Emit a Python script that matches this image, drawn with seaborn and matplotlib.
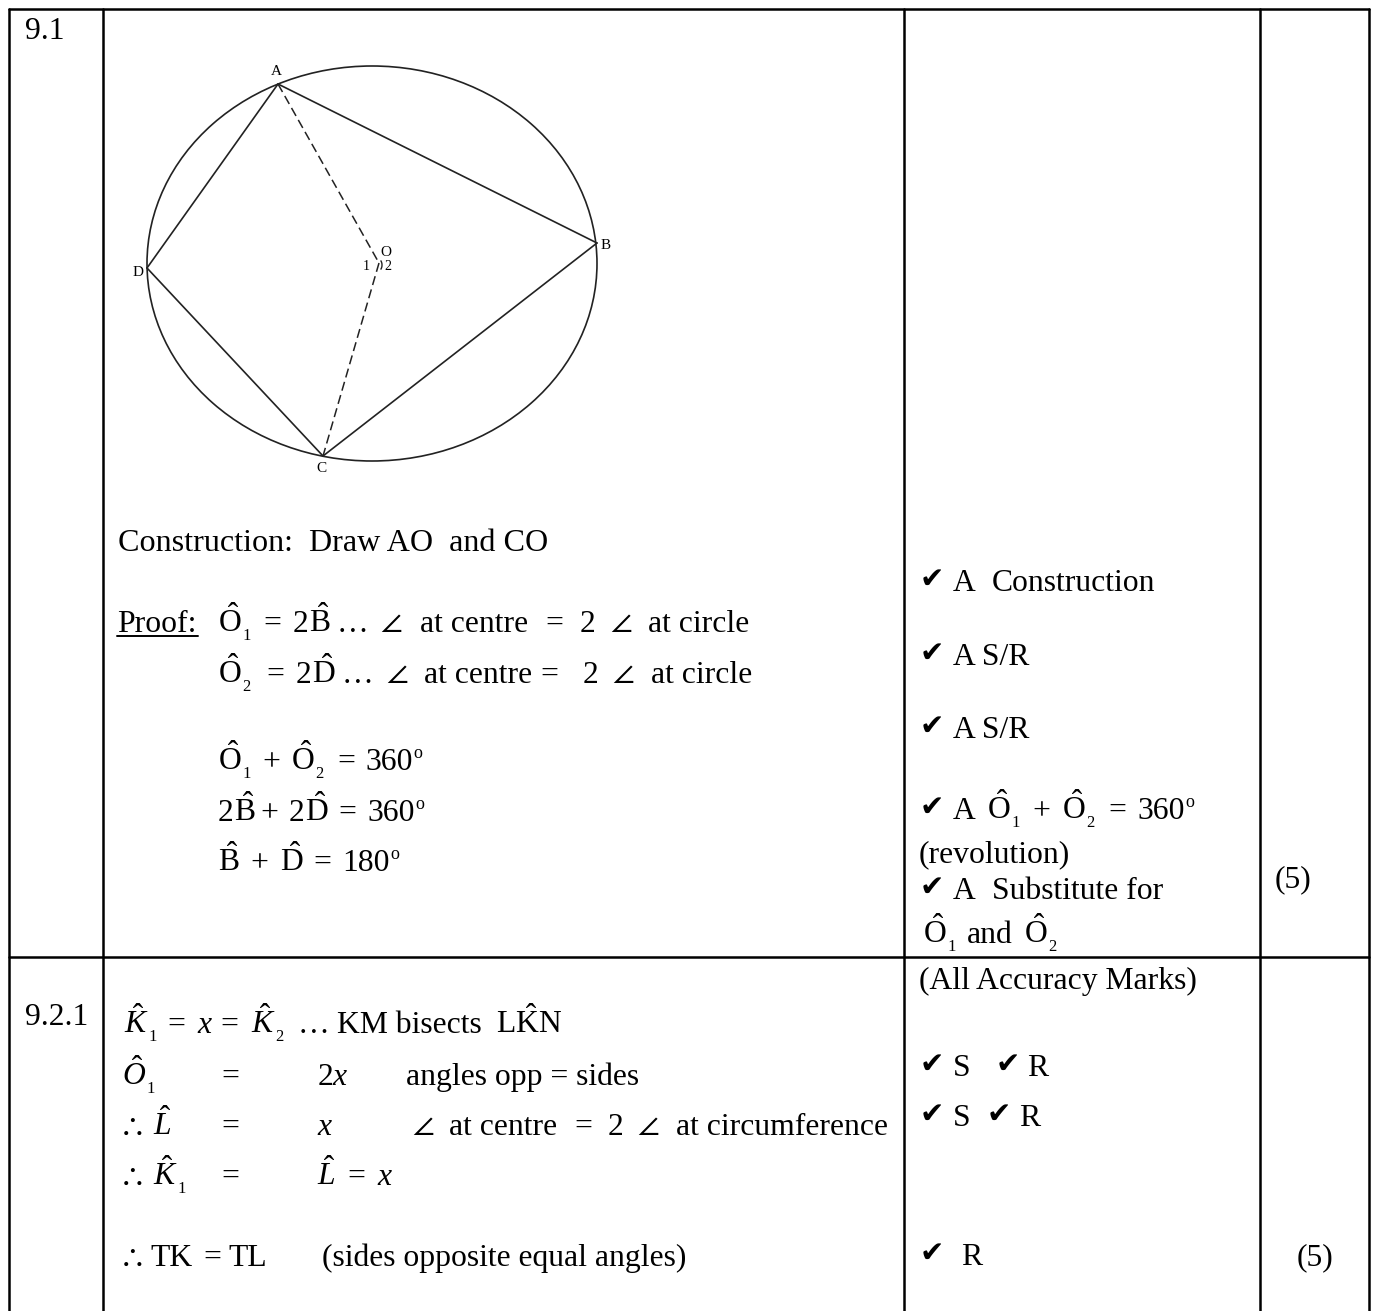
import matplotlib
matplotlib.use('Agg')
import matplotlib.pyplot as plt
from matplotlib.patches import Ellipse, Arc
import pandas as pd
import seaborn as sns

# diagram points (pixels)
point_names = ['A', 'B', 'C', 'D', 'O']
point_x = [278, 597, 323, 147, 379]
point_y = [84, 243, 456, 268, 263]
solid_chords = [('A', 'B'), ('B', 'C'), ('C', 'D'), ('D', 'A')]
dashed_chords = [('A', 'O'), ('O', 'C')]

# table grid
col_lines = [9, 103, 904, 1260, 1369]
row_lines = [9, 957]
table_bottom = 1311

sns.set_theme(style='white')
plt.rcParams['font.family'] = ['Liberation Serif', 'DejaVu Sans']
plt.rcParams['mathtext.fontset'] = 'custom'
plt.rcParams['mathtext.rm'] = 'Liberation Serif'
plt.rcParams['mathtext.it'] = 'Liberation Serif:italic'
plt.rcParams['mathtext.bf'] = 'Liberation Serif:bold'
plt.rcParams['mathtext.fallback'] = 'stix'

FS = 22.8
ANG = r'$\angle$'
THEREFORE = r'$\therefore$'

fig = plt.figure(figsize=(13.76, 13.11), dpi=100)
ax = fig.add_axes([0, 0, 1, 1])
ax.set_xlim(0, 1376)
ax.set_ylim(1311, 0)
ax.axis('off')

pts = pd.DataFrame({'x': point_x, 'y': point_y}, index=point_names)


def seg(x, y, color='black', lw=1.8, ls='-'):
    sns.lineplot(x=x, y=y, sort=False, estimator=None, color=color, lw=lw, ls=ls, ax=ax, legend=False)


def put(x, y, s, size=FS, ha='left'):
    ax.text(x, y, s, fontsize=size, va='baseline', ha=ha, color='black')


def row(y, parts):
    # one line of text made of pieces at given x
    for x, s in parts:
        put(x, y, s)


def hat(x, y, letter, sub=None, italic=False, sub_dx=24):
    if italic:
        put(x, y, r'$\hat{%s}$' % letter)
    else:
        put(x, y, r'$\hat{\mathrm{%s}}$' % letter)
    if sub:
        put(x + sub_dx, y + 8, sub, size=12)


def degrees(x, y, number):
    put(x, y, number)
    put(x + 48, y - 12, 'o', size=13)


def tick(x, y):
    ax.text(x - 1, y - 3, '\u2714', fontsize=21, family=['DejaVu Sans'], va='baseline', color='black')


# table lines
for cx in col_lines:
    seg([cx, cx], [row_lines[0], table_bottom])
for cy in row_lines:
    seg([col_lines[0], col_lines[-1]], [cy, cy])

# circle and chords
ax.add_patch(Ellipse((372, 263.5), 450, 395, fill=False, ec='#222222', lw=1.2))
for a, b in solid_chords:
    seg([pts.x[a], pts.x[b]], [pts.y[a], pts.y[b]], color='#222222', lw=1.2)
for a, b in dashed_chords:
    seg([pts.x[a], pts.x[b]], [pts.y[a], pts.y[b]], color='#222222', lw=1.1, ls=(0, (6, 3)))
ax.add_patch(Arc((378, 265), 8, 12, theta1=-60, theta2=60, ec='#222222', lw=1.0))
for lab, lx, ly in [('A', 276, 75), ('B', 606, 249), ('C', 321, 472), ('D', 138, 276), ('O', 386, 256)]:
    put(lx, ly, lab, size=11, ha='center')
put(366, 270, '1', size=10, ha='center')
put(388, 270, '2', size=10, ha='center')

# first row, left
put(25, 39, '9.1')
put(118, 551, 'Construction:  Draw AO  and CO', size=23.1)
put(117, 632, 'Proof:')
seg([117, 198], [636, 636], lw=1.4)

hat(218, 632, 'O', '1')
row(632, [(263, '='), (293, '2')])
hat(309, 632, 'B')
row(632, [(337, '\u2026'), (380, ANG), (420, 'at centre'), (545, '='), (580, '2'), (610, ANG), (648, 'at circle')])

hat(218, 683, 'O', '2')
row(683, [(266, '='), (296, '2')])
hat(312, 683, 'D')
row(683, [(342, '\u2026'), (386, ANG), (424, 'at centre'), (540, '='), (583, '2'), (612, ANG), (651, 'at circle')])

hat(218, 770, 'O', '1')
put(262, 770, '+')
hat(291, 770, 'O', '2')
put(337, 770, '=')
degrees(365, 770, '360')

put(218, 821, '2')
hat(234, 821, 'B')
row(821, [(260, '+'), (289, '2')])
hat(305, 821, 'D')
put(338, 821, '=')
degrees(367, 821, '360')

hat(218, 871, 'B')
put(250, 871, '+')
hat(280, 871, 'D')
put(313, 871, '=')
degrees(342, 871, '180')

# first row, marks
tick(921, 591)
row(591, [(953, 'A'), (992, 'Construction')])
tick(921, 665)
put(953, 665, 'A S/R')
tick(921, 738)
put(953, 738, 'A S/R')
tick(921, 819)
put(953, 819, 'A')
hat(987, 819, 'O', '1')
put(1032, 819, '+')
hat(1062, 819, 'O', '2')
put(1108, 819, '=')
degrees(1137, 819, '360')
put(919, 862, '(revolution)')
tick(921, 899)
row(899, [(953, 'A'), (992, 'Substitute for')])
hat(923, 943, 'O', '1')
put(967, 943, 'and')
hat(1024, 943, 'O', '2')
put(1275, 887, '(5)')

# second row, left
put(25, 1025, '9.2.1')
hat(124, 1033, 'K', '1', italic=True)
row(1033, [(167, '='), (197, r'$x$'), (220, '=')])
hat(251, 1033, 'K', '2', italic=True)
row(1033, [(298, '\u2026'), (337, 'KM bisects'), (496, r'$\mathrm{L\hat{K}N}$')])

hat(122, 1085, 'O', '1', italic=True)
row(1085, [(221, '='), (317, r'$2x$'), (406, 'angles opp = sides')])

put(118, 1135, THEREFORE)
hat(153, 1135, 'L', italic=True)
row(1135, [(221, '='), (317, r'$x$'), (412, ANG), (449, 'at centre'), (574, '='), (608, '2'),
           (637, ANG), (676, 'at circumference')])

put(118, 1185, THEREFORE)
hat(153, 1185, 'K', '1', italic=True)
put(221, 1185, '=')
hat(317, 1185, 'L', italic=True)
row(1185, [(347, '='), (377, r'$x$')])

put(118, 1266, THEREFORE)
row(1266, [(150, 'TK'), (203, '='), (228, 'TL'), (322, '(sides opposite equal angles)')])

# second row, marks
put(919, 989, '(All Accuracy Marks)')
tick(921, 1076)
put(953, 1076, 'S')
tick(997, 1076)
put(1027, 1076, 'R')
tick(921, 1126)
put(953, 1126, 'S')
tick(988, 1126)
put(1019, 1126, 'R')
tick(921, 1265)
put(961, 1265, 'R')
put(1297, 1265, '(5)')

fig.savefig('out.png', dpi=100)
